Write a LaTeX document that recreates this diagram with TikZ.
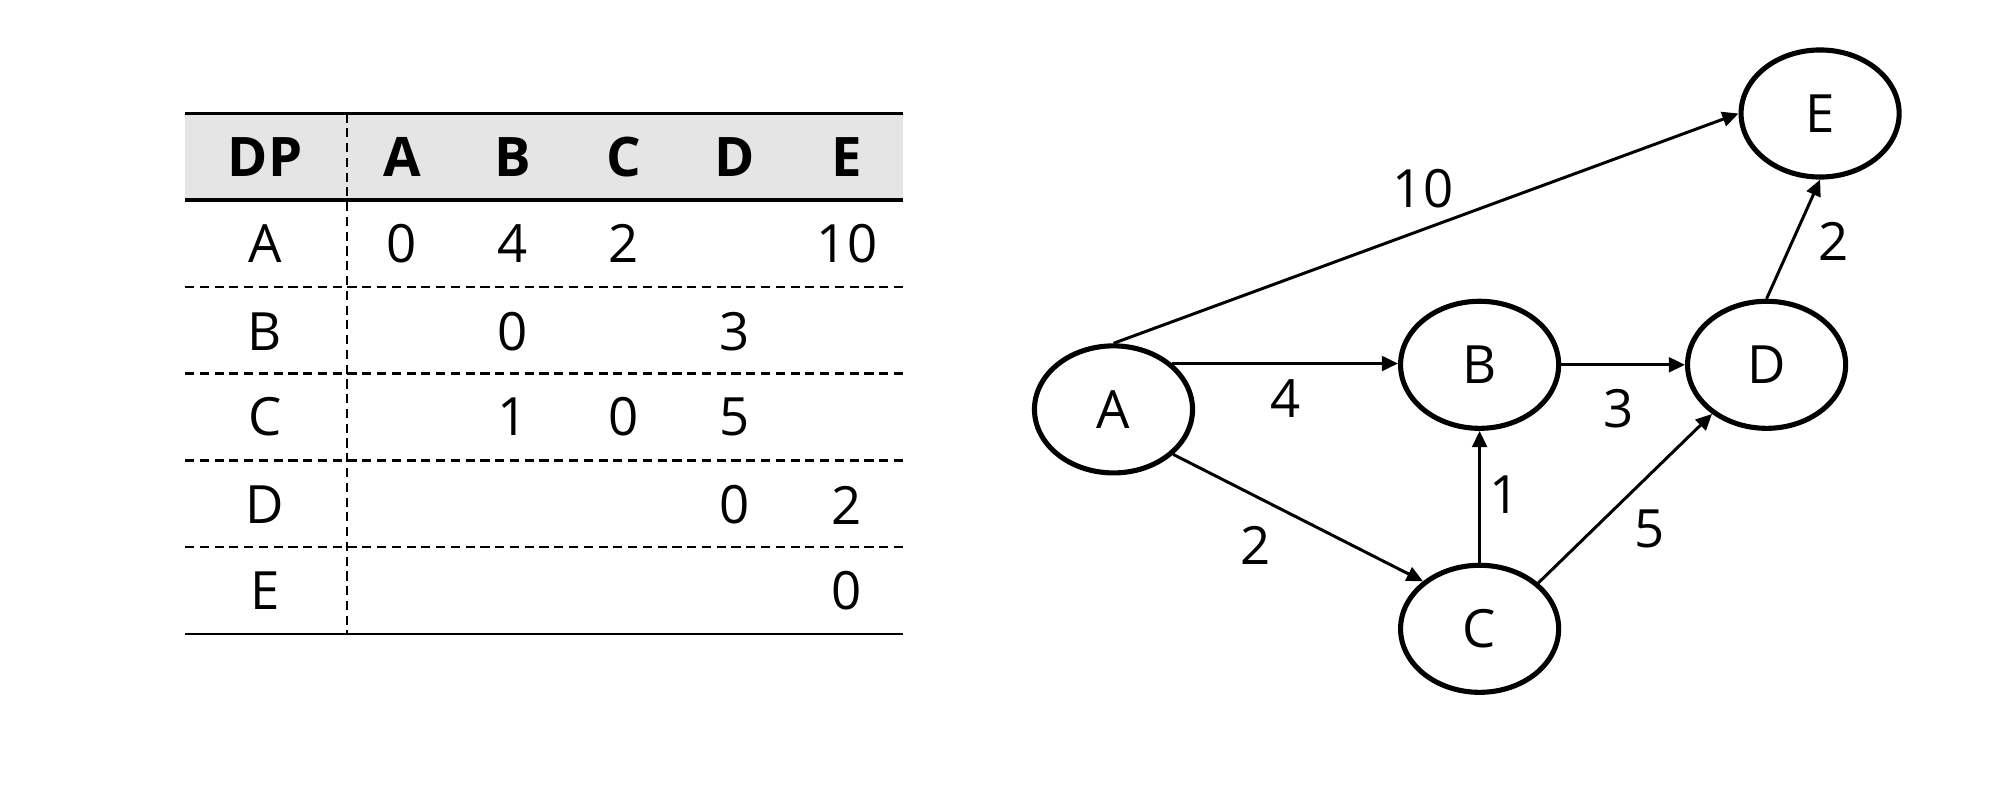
\documentclass[tikz,border=0pt]{standalone}
\usepackage{fontspec}
\setmainfont{Open Sans}
\usetikzlibrary{shapes.geometric,arrows.meta}
\begin{document}
\begin{tikzpicture}[x=0.01cm,y=-0.01cm,
  every node/.style={font=\fontsize{15}{18}\selectfont},
  vtx/.style={draw,ellipse,line width=1.45pt,minimum width=1.58cm,minimum height=1.27cm,inner sep=0pt},
  edge/.style={line width=0.85pt,-{Triangle[length=4.6pt,width=4.2pt]}},
  cell/.style={inner sep=0pt,anchor=center},
  hcell/.style={inner sep=0pt,anchor=center,font=\fontsize{15.5}{18}\selectfont\bfseries},
  rowline/.style={line width=0.7pt,dash pattern=on 2.6pt off 1.6pt},
  thickrule/.style={line width=1.1pt}
]
\useasboundingbox (0,0) rectangle (2000,791);
% table
\fill[black!10] (185,113.5) rectangle (903,200);
\draw[thickrule] (185,113.5) -- (903,113.5);
\draw[thickrule] (185,200) -- (903,200);
\foreach \y in {287,373.7,460.5,547.2} \draw[rowline] (185,\y) -- (903,\y);
\draw[line width=0.8pt] (185,634) -- (903,634);
\draw[rowline] (347,113.5) -- (347,634);
% header
\node[hcell] (hDP) at (265,157) {DP};
\node[hcell] (hA) at (401.8,157) {A};
\node[hcell] (hB) at (512.8,157) {B};
\node[hcell] (hC) at (623.7,157) {C};
\node[hcell] (hD) at (734.7,157) {D};
\node[hcell] (hE) at (847,157) {E};
% rows
\node[cell] (rA) at (265,243.6) {A};
\node[cell] (rB) at (265,331.6) {B};
\node[cell] (rC) at (265,417) {C};
\node[cell] (rD) at (265,505) {D};
\node[cell] (rE) at (265,590.6) {E};
\node[cell] (aa) at (401.8,243.6) {0};
\node[cell] (ab) at (512.8,243.6) {4};
\node[cell] (ac) at (623.7,243.6) {2};
\node[cell] (ae) at (847,243.6) {10};
\node[cell] (bb) at (512.8,331.6) {0};
\node[cell] (bd) at (734.7,331.6) {3};
\node[cell] (cb) at (512.8,417) {1};
\node[cell] (cc) at (623.7,417) {0};
\node[cell] (cd) at (734.7,417) {5};
\node[cell] (dd) at (734.7,505) {0};
\node[cell] (de) at (847,505) {2};
\node[cell] (ee) at (847,590.6) {0};
% graph
\node[vtx] (A) at (1113.5,409.4) {A};
\node[vtx] (B) at (1479.6,364.8) {B};
\node[vtx] (C) at (1479.6,628.8) {C};
\node[vtx] (D) at (1766.6,364.8) {D};
\node[vtx] (E) at (1820.1,113.5) {E};
\draw[edge] (A.north) -- (E.west);
\draw[edge] (A.38) -- (A.38 -| B.west);
\draw[edge] (A.-37) -- (C.140);
\draw[edge] (C.north) -- (B.south);
\draw[edge] (B.east) -- (D.west);
\draw[edge] (C.38) -- (D.222);
\draw[edge] (D.north) -- (E.south);
\node (l10) at (1423,189) {10};
\node (l4) at (1286,399) {4};
\node (l2a) at (1256,545) {2};
\node (l1) at (1505,495) {1};
\node (l3) at (1619,409) {3};
\node (l5) at (1650,529) {5};
\node (l2b) at (1834,241) {2};
\end{tikzpicture}
\end{document}
